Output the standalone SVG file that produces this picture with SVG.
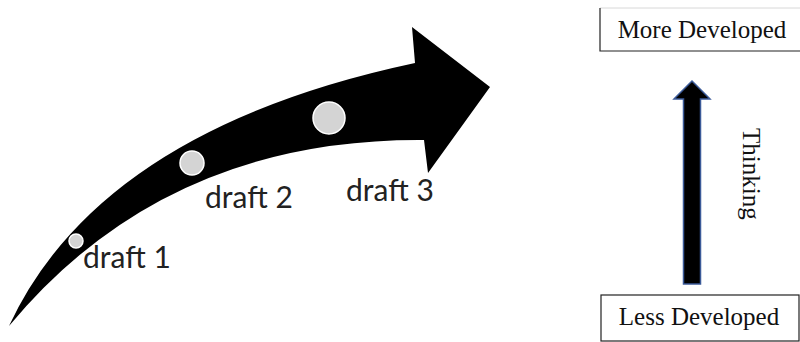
<svg xmlns="http://www.w3.org/2000/svg" width="800" height="342" viewBox="0 0 800 342">
  <style>
    .box { fill: #ffffff; stroke: #222222; stroke-width: 1.2; }
    .serif { font-family: "Liberation Serif", "Times New Roman", serif; font-size: 25px; fill: #111111; }
    .draft { font-family: Lato, "Open Sans", sans-serif; font-size: 30px; fill: #222222; }
    .dot { fill: #d4d4d4; stroke: #ffffff; stroke-width: 1.5; }
  </style>
  <rect width="800" height="342" fill="#ffffff"/>

  <g id="progress-arrow">
    <path d="M 9 326 Q 100 130 415 63 L 412 27 L 490 87 L 428 173 L 424 140 Q 165 138 9 326 Z" fill="#000000"/>
  </g>

  <g id="draft1">
    <circle class="dot" cx="76" cy="241" r="7"/>
    <text class="draft" x="83" y="268">draft 1</text>
  </g>
  <g id="draft2">
    <circle class="dot" cx="192" cy="163" r="12"/>
    <text class="draft" x="205" y="208">draft 2</text>
  </g>
  <g id="draft3">
    <circle class="dot" cx="329" cy="118" r="16"/>
    <text class="draft" x="346" y="201">draft 3</text>
  </g>

  <g id="more-developed">
    <rect x="600" y="8" width="205" height="43" fill="#ffffff"/>
    <line x1="600" y1="8" x2="800" y2="8" stroke="#d8d8d8" stroke-width="1"/>
    <path d="M 600 8 L 600 51 L 800 51" fill="none" stroke="#222222" stroke-width="1.2"/>
    <text class="serif" x="702" y="38" text-anchor="middle">More Developed</text>
  </g>

  <g id="less-developed">
    <rect class="box" x="601" y="295" width="198" height="46"/>
    <text class="serif" x="699" y="325" text-anchor="middle">Less Developed</text>
  </g>

  <g id="connectors">
    <polygon points="683.5,284 683.5,99 674,99 692,81 710,99 700.5,99 700.5,284" fill="#000000" stroke="#3b5a98" stroke-width="1.5" stroke-linejoin="miter"/>
  </g>

  <g id="thinking-label">
    <text class="serif" transform="translate(743,128) rotate(90)" x="0" y="0">Thinking</text>
  </g>
</svg>
